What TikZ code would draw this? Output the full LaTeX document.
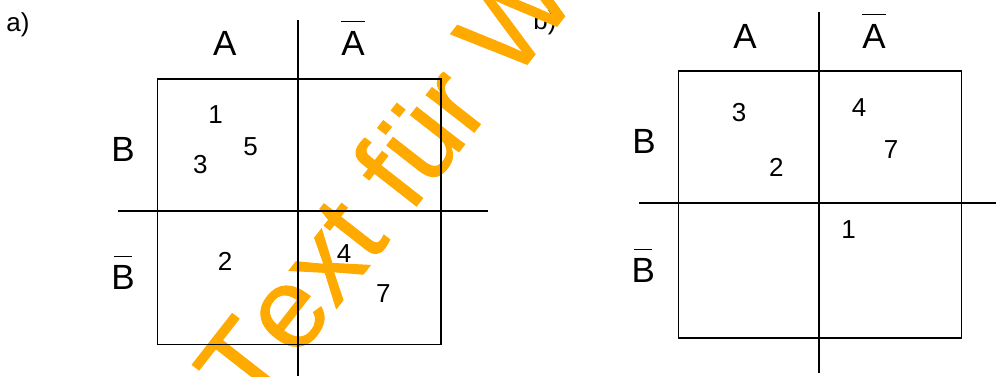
\documentclass[tikz,border=0pt]{standalone}
\usepackage{fontspec}
\setmainfont{Liberation Sans}
\newfontfamily\wmfont[FakeBold=0.8,Kerning=Off]{Liberation Sans}
\definecolor{wm}{RGB}{255,170,0}
\begin{document}
\begin{tikzpicture}[x=1pt,y=-1pt,
  grid/.style={line width=1.6pt,black},
  lbl/.style={inner sep=0pt,font=\fontsize{35}{40}\selectfont},
  num/.style={inner sep=0pt,font=\fontsize{26}{30}\selectfont},
  bar/.style={line width=1.5pt,black}]
\useasboundingbox (0,0) rectangle (996,376);
\clip (0,0) rectangle (996,376);
% label b) (partly hidden below watermark)
\node[num] (lb) at (545,23) {b)};
% watermark
\node[inner sep=0pt,anchor=base west,rotate=52,text=wm,font=\wmfont\fontsize{115}{115}\selectfont] (wmk) at (252.8,415.6) {Text für W};
% ---------- a) ----------
\node[num] (la) at (18,24.7) {a)};
\coordinate (a1) at (157.3,78.7);
\coordinate (a2) at (440.7,344.3);
\draw[grid] (a1) rectangle (a2);
\coordinate (av1) at (297.7,20);
\coordinate (av2) at (297.7,376);
\coordinate (ah1) at (118.3,210.7);
\coordinate (ah2) at (487.7,210.7);
\draw[grid] (av1) -- (av2);
\draw[grid] (ah1) -- (ah2);
\node[lbl] (aA) at (224.7,43) {A};
\node[lbl] (aAn) at (353,43) {A};
\draw[bar] ([yshift=9.5pt]aAn.north west) -- ([yshift=9.5pt]aAn.north east);
\node[lbl] (aB) at (123,149) {B};
\node[lbl] (aBn) at (123,277) {B};
\draw[bar] ([yshift=8.5pt,xshift=2.8pt]aBn.north west) -- ([yshift=8.5pt,xshift=-2.8pt]aBn.north east);
\node[num] (a1n) at (215.7,115) {1};
\node[num] (a5n) at (250.7,147) {5};
\node[num] (a3n) at (200.3,164.3) {3};
\node[num] (a2n) at (225,261.7) {2};
\node[num] (a4n) at (344,253.3) {4};
\node[num] (a7n) at (383.3,293.3) {7};
% ---------- b) ----------
\coordinate (b1) at (678.3,71);
\coordinate (b2) at (961.3,337.7);
\draw[grid] (b1) rectangle (b2);
\coordinate (bv1) at (818.7,12.3);
\coordinate (bv2) at (818.7,372.7);
\coordinate (bh1) at (639,203);
\coordinate (bh2) at (996,203);
\draw[grid] (bv1) -- (bv2);
\draw[grid] (bh1) -- (bh2);
\node[lbl] (bA) at (745,36) {A};
\node[lbl] (bAn) at (874,36) {A};
\draw[bar] ([yshift=9.5pt]bAn.north west) -- ([yshift=9.5pt]bAn.north east);
\node[lbl] (bB) at (644,141.7) {B};
\node[lbl] (bBn) at (643.3,270) {B};
\draw[bar] ([yshift=8.5pt,xshift=2.8pt]bBn.north west) -- ([yshift=8.5pt,xshift=-2.8pt]bBn.north east);
\node[num] (b3n) at (739,112.7) {3};
\node[num] (b2n) at (776.3,167.3) {2};
\node[num] (b4n) at (859,107.7) {4};
\node[num] (b7n) at (891,149.3) {7};
\node[num] (b1n) at (848.7,229.7) {1};
\end{tikzpicture}
\end{document}
